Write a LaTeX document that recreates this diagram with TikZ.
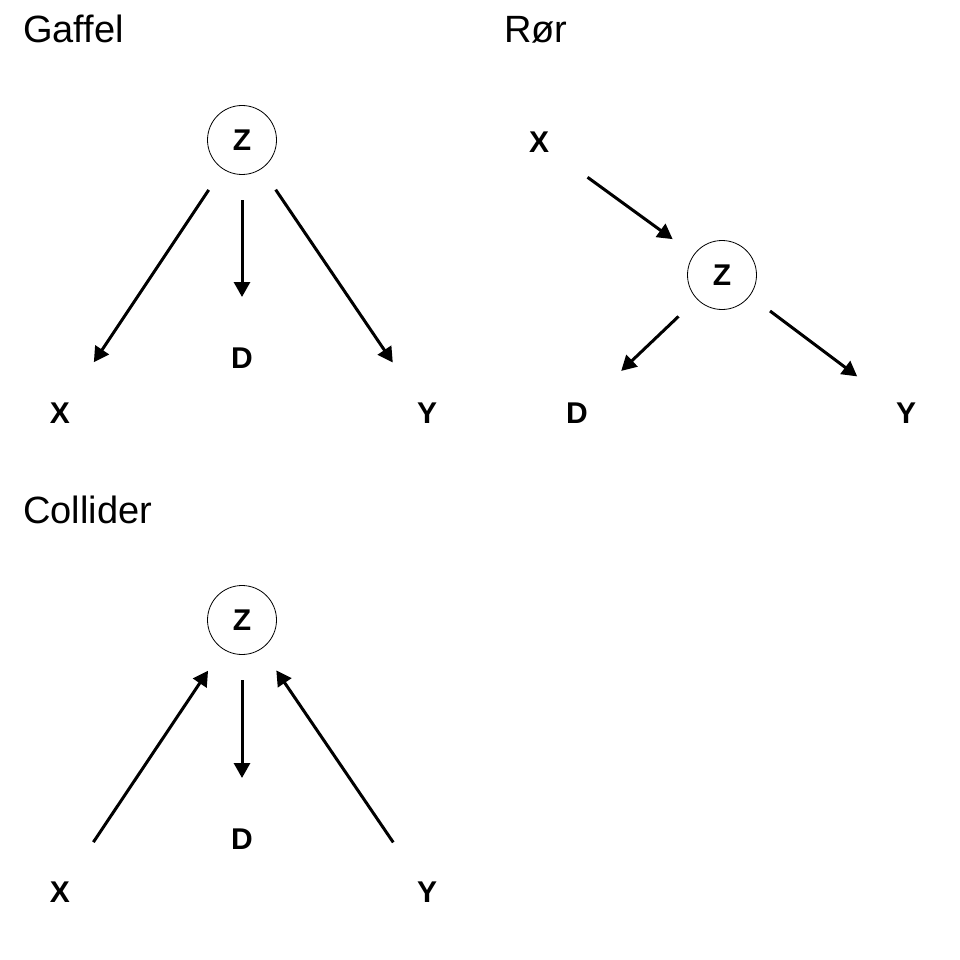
\documentclass[tikz,border=0pt]{standalone}
\usepackage{fontspec}
\setmainfont{Liberation Sans}
\usetikzlibrary{arrows.meta}
\begin{document}
\begin{tikzpicture}[x=1pt,y=-1pt,
  title/.style={anchor=base west,inner sep=0pt,font=\fontsize{38}{44}\selectfont},
  var/.style={inner sep=0pt,font=\fontsize{30}{34}\selectfont\bfseries},
  zvar/.style={var,circle,draw,line width=0.8pt,minimum size=69pt},
  edge/.style={line width=3pt,-{Triangle[length=15pt,width=16pt]},shorten <=60pt,shorten >=61pt}]
\useasboundingbox (0,0) rectangle (960,960);
% Gaffel
\node[title] (t1) at (23,43) {Gaffel};
\node[zvar] (gZ) at (242,140) {Z};
\node[var] (gX) at (60,413) {X};
\node[var] (gD) at (242,358) {D};
\node[var] (gY) at (427,413) {Y};
\draw[edge] (gZ.center) -- (gX.center);
\draw[edge] (gZ.center) -- (gD.center);
\draw[edge] (gZ.center) -- (gY.center);
% Ror
\node[title] (t2) at (504,43) {Rør};
\node[var] (rX) at (539,142) {X};
\node[zvar] (rZ) at (722,275) {Z};
\node[var] (rD) at (577,413) {D};
\node[var] (rY) at (906,413) {Y};
\draw[edge] (rX.center) -- (rZ.center);
\draw[edge] (rZ.center) -- (rD.center);
\draw[edge] (rZ.center) -- (rY.center);
% Collider
\node[title] (t3) at (23,523) {Collider};
\node[zvar] (cZ) at (242,620) {Z};
\node[var] (cX) at (60,892) {X};
\node[var] (cD) at (242,839) {D};
\node[var] (cY) at (427,892) {Y};
\draw[edge] (cX.center) -- (cZ.center);
\draw[edge] (cZ.center) -- (cD.center);
\draw[edge] (cY.center) -- (cZ.center);
\end{tikzpicture}
\end{document}
